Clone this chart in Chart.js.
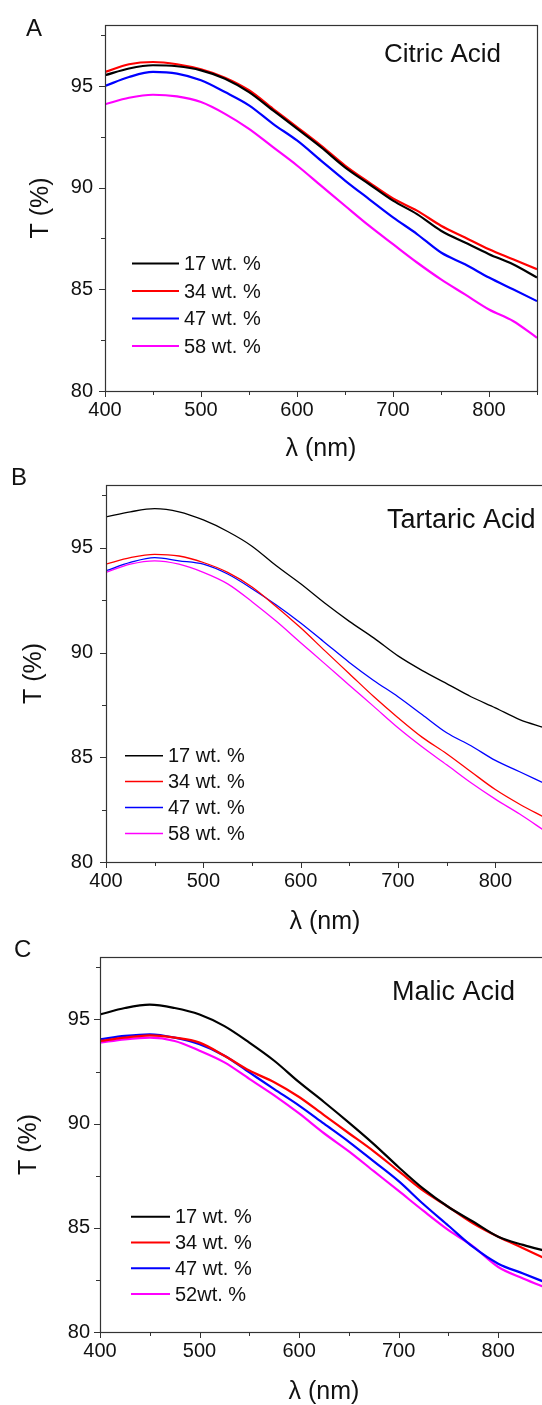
<!DOCTYPE html>
<html>
<head>
<meta charset="utf-8">
<script src="https://cdn.jsdelivr.net/npm/chart.js@4.4.1/dist/chart.umd.min.js"></script>
<style>
  html, body { margin: 0; padding: 0; background: #fff; width: 542px; height: 1405px; overflow: hidden; }
  .panel { position: absolute; left: 0; }
</style>
</head>
<body>
<canvas id="panelA" class="panel"></canvas>
<canvas id="panelB" class="panel"></canvas>
<canvas id="panelC" class="panel"></canvas>
<script>
// Wavelength grid (nm)
const wavelength = [400, 425, 450, 475, 500, 525, 550, 575, 600, 625, 650, 675, 700, 725, 750, 775, 800, 825, 850];

// Axis ticks
const xTicks = [400, 500, 600, 700, 800];
const xMinorTicks = [450, 550, 650, 750, 850];
const yTicks = [80, 85, 90, 95];
const yMinorTicks = [82.5, 87.5, 92.5, 97.5];

// Series names and colours
const seriesLabelsAB = ['17 wt. %', '34 wt. %', '47 wt. %', '58 wt. %'];
const seriesLabelsC = ['17 wt. %', '34 wt. %', '47 wt. %', '52wt. %'];
const seriesColors = ['#000000', '#ff0000', '#0000ff', '#ff00ff'];

// Transmittance T (%) — citric acid
const citric17 = [95.53, 95.86, 96.02, 95.97, 95.77, 95.36, 94.70, 93.80, 92.90, 91.99, 91.00, 90.18, 89.36, 88.70, 87.88, 87.30, 86.73, 86.23, 85.58];
const citric34 = [95.69, 96.07, 96.18, 96.07, 95.82, 95.41, 94.79, 93.88, 92.98, 92.07, 91.09, 90.26, 89.47, 88.87, 88.13, 87.55, 86.97, 86.48, 85.99];
const citric47 = [95.00, 95.44, 95.69, 95.61, 95.28, 94.70, 94.05, 93.14, 92.32, 91.33, 90.35, 89.44, 88.54, 87.72, 86.81, 86.23, 85.58, 85.00, 84.42];
const citric58 = [94.10, 94.42, 94.57, 94.49, 94.21, 93.63, 92.89, 91.99, 91.09, 90.10, 89.11, 88.13, 87.22, 86.32, 85.49, 84.75, 84.01, 83.44, 82.62];

// Transmittance T (%) — tartaric acid
const tartaric17 = [96.48, 96.72, 96.87, 96.72, 96.33, 95.78, 95.08, 94.14, 93.28, 92.35, 91.49, 90.70, 89.84, 89.14, 88.52, 87.89, 87.36, 86.80, 86.42];
const tartaric34 = [94.22, 94.53, 94.69, 94.61, 94.30, 93.83, 93.13, 92.19, 91.18, 90.08, 88.99, 87.90, 86.89, 85.95, 85.17, 84.31, 83.46, 82.76, 82.14];
const tartaric47 = [93.91, 94.30, 94.53, 94.38, 94.22, 93.75, 93.05, 92.27, 91.41, 90.47, 89.53, 88.67, 87.89, 87.03, 86.17, 85.55, 84.85, 84.31, 83.76];
const tartaric58 = [93.83, 94.22, 94.38, 94.22, 93.83, 93.28, 92.43, 91.49, 90.47, 89.46, 88.44, 87.43, 86.41, 85.49, 84.64, 83.78, 83.00, 82.29, 81.51];

// Transmittance T (%) — malic acid
const malic17 = [95.24, 95.55, 95.71, 95.55, 95.24, 94.68, 93.89, 93.02, 91.99, 91.04, 90.05, 89.02, 87.91, 86.87, 86.00, 85.29, 84.57, 84.18, 83.86];
const malic34 = [93.97, 94.13, 94.24, 94.13, 93.89, 93.26, 92.55, 91.99, 91.28, 90.41, 89.54, 88.67, 87.72, 86.77, 86.00, 85.21, 84.57, 84.02, 83.46];
const malic47 = [94.05, 94.21, 94.29, 94.13, 93.81, 93.26, 92.46, 91.66, 90.87, 90.00, 89.13, 88.19, 87.24, 86.13, 85.10, 84.07, 83.28, 82.81, 82.33];
const malic52 = [93.89, 94.05, 94.13, 93.97, 93.50, 92.94, 92.15, 91.36, 90.49, 89.54, 88.67, 87.72, 86.77, 85.81, 84.89, 84.10, 83.12, 82.57, 82.09];

const FONT = '"Liberation Sans", Arial, Helvetica, sans-serif';
const INK = '#111111';
const AXIS = '#333333';

// Frame, outward ticks, titles, panel letter and inset legend
const panelDecor = {
  id: 'panelDecor',
  afterDraw(chart) {
    const o = chart.options.plugins.panelDecor;
    const { ctx, chartArea: a, scales } = chart;
    const xs = scales.x, ys = scales.y;
    ctx.save();
    ctx.strokeStyle = AXIS;
    ctx.lineWidth = 1.2;
    ctx.strokeRect(Math.round(a.left) + 0.5, Math.round(a.top) + 0.5, Math.round(a.right - a.left), Math.round(a.bottom - a.top));
    ctx.lineWidth = 1;
    ctx.beginPath();
    const tick = (vals, len, isX) => {
      vals.forEach(v => {
        if (isX) {
          const px = Math.round(xs.getPixelForValue(v)) + 0.5;
          ctx.moveTo(px, a.bottom); ctx.lineTo(px, a.bottom + len);
        } else {
          const py = Math.round(ys.getPixelForValue(v)) + 0.5;
          ctx.moveTo(a.left, py); ctx.lineTo(a.left - len, py);
        }
      });
    };
    tick(xTicks, 6, true); tick(xMinorTicks, 4, true);
    tick(yTicks, 6, false); tick(yMinorTicks, 4, false);
    ctx.stroke();

    ctx.fillStyle = INK;
    // x title
    ctx.font = '25px ' + FONT;
    ctx.textAlign = 'center';
    ctx.textBaseline = 'middle';
    ctx.fillText('λ (nm)', (a.left + a.right) / 2, a.bottom + o.xTitleDy);
    // y title
    ctx.save();
    ctx.translate(o.yTitleX, (a.top + a.bottom) / 2);
    ctx.rotate(-Math.PI / 2);
    ctx.fillText('T (%)', 0, 0);
    ctx.restore();
    // panel letter
    ctx.textAlign = 'left';
    ctx.textBaseline = 'alphabetic';
    ctx.font = '24px ' + FONT;
    ctx.fillText(o.letter, o.letterX, o.letterY);
    // annotation
    ctx.font = o.noteSize + 'px ' + FONT;
    ctx.fillText(o.note, o.noteX, o.noteY);
    // legend
    ctx.font = '20px ' + FONT;
    ctx.textBaseline = 'middle';
    chart.data.datasets.forEach((ds, i) => {
      const y = o.legY + i * o.legStep;
      ctx.strokeStyle = ds.borderColor;
      ctx.lineWidth = o.legLine;
      ctx.beginPath();
      ctx.moveTo(o.legX0, y); ctx.lineTo(o.legX1, y);
      ctx.stroke();
      ctx.fillStyle = INK;
      ctx.fillText(ds.label, o.legX1 + 5, y + 1);
    });
    ctx.restore();
  }
};

function makePanel(id, top, width, height, area, seriesData, labels, lineWidth, decor, yPad) {
  const canvas = document.getElementById(id);
  canvas.style.top = top + 'px';
  canvas.width = width; canvas.height = height;
  canvas.style.width = width + 'px'; canvas.style.height = height + 'px';
  const datasets = seriesData.map((vals, i) => ({
    label: labels[i],
    data: vals.map((v, k) => ({ x: wavelength[k], y: v })),
    borderColor: seriesColors[i],
    borderWidth: lineWidth,
    pointRadius: 0,
    cubicInterpolationMode: 'monotone',
    fill: false
  }));
  return new Chart(canvas, {
    type: 'line',
    data: { datasets },
    options: {
      responsive: false,
      animation: false,
      events: [],
      layout: { padding: { top: area.top - top, right: width - area.right, left: 0, bottom: 0 } },
      plugins: { legend: { display: false }, tooltip: { enabled: false }, panelDecor: decor },
      scales: {
        x: {
          type: 'linear', min: 400, max: 850,
          grid: { display: false, drawTicks: false },
          border: { display: false },
          afterBuildTicks: s => { s.ticks = xTicks.map(v => ({ value: v })); },
          afterFit: s => { s.height = top + height - area.bottom; },
          ticks: { padding: 7, color: INK, font: { family: FONT, size: 20 }, maxRotation: 0 }
        },
        y: {
          type: 'linear', min: 80, max: 98,
          grid: { display: false, drawTicks: false },
          border: { display: false },
          afterBuildTicks: s => { s.ticks = yTicks.map(v => ({ value: v })); },
          afterFit: s => { s.width = area.left; },
          ticks: { padding: yPad, color: INK, font: { family: FONT, size: 20 } }
        }
      }
    },
    plugins: [panelDecor]
  });
}

makePanel('panelA', 0, 542, 470, { left: 105, top: 25, right: 537, bottom: 391 },
  [citric17, citric34, citric47, citric58], seriesLabelsAB, 2.2,
  { letter: 'A', letterX: 26, letterY: 36, note: 'Citric Acid', noteX: 384, noteY: 62, noteSize: 26,
    xTitleDy: 58, yTitleX: 41.5,
    legX0: 132, legX1: 179, legY: 263.5, legStep: 27.5, legLine: 2 }, 12);

makePanel('panelB', 460, 560, 480, { left: 106, top: 477, right: 544, bottom: 862 },
  [tartaric17, tartaric34, tartaric47, tartaric58], seriesLabelsAB, 1.3,
  { letter: 'B', letterX: 11, letterY: 485 - 460, note: 'Tartaric Acid', noteX: 387, noteY: 528 - 460, noteSize: 27,
    xTitleDy: 60.5, yTitleX: 34.6,
    legX0: 125, legX1: 163, legY: 755.7 - 460, legStep: 25.9, legLine: 1.5 }, 13);

makePanel('panelC', 935, 560, 470, { left: 100, top: 954, right: 548, bottom: 1332 },
  [malic17, malic34, malic47, malic52], seriesLabelsC, 2.2,
  { letter: 'C', letterX: 14, letterY: 957 - 935, note: 'Malic Acid', noteX: 392, noteY: 1000 - 935, noteSize: 27,
    xTitleDy: 60.5, yTitleX: 29.4,
    legX0: 131, legX1: 170, legY: 1216.7 - 935, legStep: 25.8, legLine: 2 }, 10);
</script>
</body>
</html>
